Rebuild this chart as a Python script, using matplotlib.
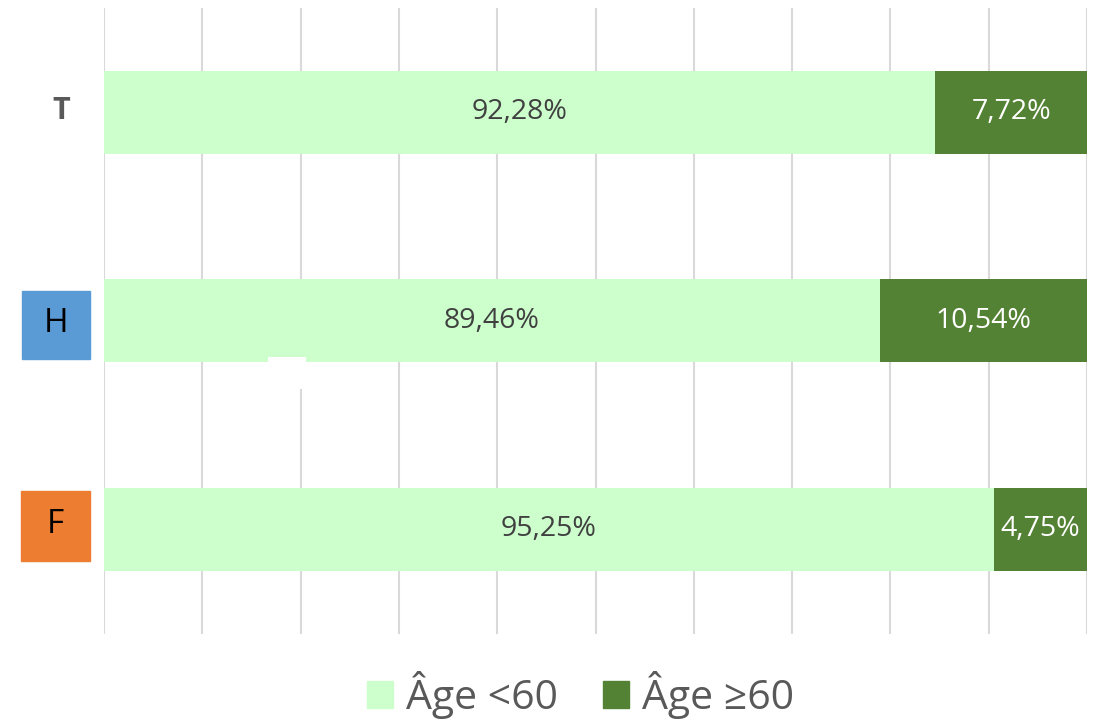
import matplotlib
matplotlib.use("Agg")
import matplotlib.pyplot as plt
from matplotlib.patches import Rectangle, Patch

plt.rcParams['font.family'] = ['Open Sans', 'DejaVu Sans']

# --- data ---
categories = ["F", "H", "T"]          # bottom to top
under_60 = [95.25, 89.46, 92.28]
over_60 = [4.75, 10.54, 7.72]
series_names = ["Âge <60", "Âge ≥60"]

light = "#CCFFCC"
dark = "#548235"
x_min = 50  # axis starts at 50 %

fig = plt.figure(figsize=(11.01, 7.24), dpi=100)
ax = fig.add_axes([0.0945, 0.125, 0.8928, 0.864])

y = list(range(len(categories)))
ax.barh(y, under_60, height=0.4, color=light, zorder=2)
ax.barh(y, over_60, left=under_60, height=0.4, color=dark, zorder=2)

def fmt(v):
    return f"{v:.2f}".replace(".", ",") + "%"

for yi, a, b in zip(y, under_60, over_60):
    ax.text((x_min + a) / 2, yi, fmt(a), ha="center", va="center", fontsize=20.5,
            color="#404040", zorder=3)
    ax.text(a + b / 2, yi, fmt(b), ha="center", va="center", fontsize=20.5,
            color="white", zorder=3)

ax.set_xlim(x_min, 100)
ax.set_ylim(-0.5, 2.5)
ax.set_xticks(range(x_min, 101, 5))
ax.xaxis.grid(True, color="#D9D9D9", linewidth=1.5, zorder=0)
ax.tick_params(left=False, bottom=False, labelleft=False, labelbottom=False)
for s in ax.spines.values():
    s.set_visible(False)

# category labels at the left
tr = ax.get_yaxis_transform()
ax.text(-0.044, 2 + 0.005, "T", transform=tr, ha="center", va="center", fontsize=22,
        fontweight="bold", color="#595959")
ax.add_patch(Rectangle((-0.0834, 0.815), 0.0692, 0.3265, transform=tr, color="#5B9BD5",
                       clip_on=False, zorder=3))
ax.text(-0.0488, 1 - 0.014, "H", transform=tr, ha="center", va="center", fontsize=24,
        color="black", zorder=4)
ax.add_patch(Rectangle((-0.0844, -0.151), 0.0702, 0.3357, transform=tr, color="#ED7D31",
                       clip_on=False, zorder=3))
ax.text(-0.0498, 0 + 0.022, "F", transform=tr, ha="center", va="center", fontsize=24,
        color="black", zorder=4)

# small white patch seen in the original
ax.add_patch(Rectangle((0.1668, 0.671), 0.0386, 0.154, transform=tr, color="white",
                       zorder=4, linewidth=0))

handles = [Patch(color=light), Patch(color=dark)]
fig.legend(handles, series_names, loc="center", bbox_to_anchor=(0.527, 0.04), ncol=2,
           frameon=False, fontsize=29.5, labelcolor="#595959", handlelength=0.65,
           handleheight=0.65, handletextpad=0.3, columnspacing=1.1, borderpad=0.2)

fig.savefig("out.png", dpi=100)
